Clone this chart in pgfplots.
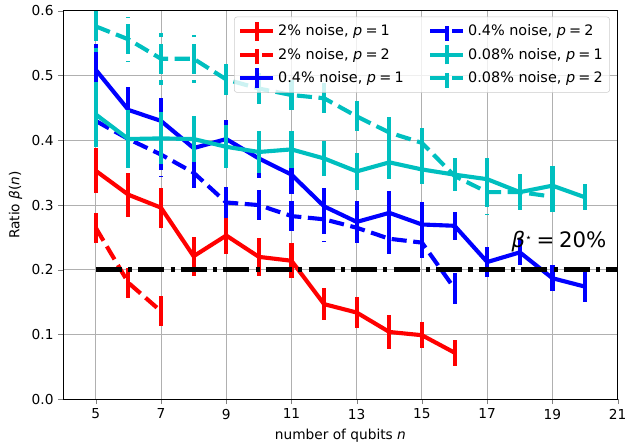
\documentclass[border=0pt]{standalone}
\usepackage{pgfplots}
\usepackage{pgfplotstable}
\pgfplotsset{compat=1.18}
\usepackage{fontspec}
\setmainfont{DejaVu Sans}

\definecolor{mplc}{rgb}{0,0.75,0.75}

% columns: n, ratio, error
\pgfplotstableread{
x y e
5 0.353 0.035
6 0.316 0.034
7 0.296 0.031
8 0.221 0.030
9 0.253 0.028
10 0.220 0.029
11 0.214 0.027
12 0.147 0.025
13 0.134 0.024
14 0.104 0.026
15 0.099 0.020
16 0.072 0.020
}\redone
\pgfplotstableread{
x y e
5 0.265 0.032
6 0.180 0.032
7 0.136 0.030
}\redtwo
\pgfplotstableread{
x y e
5 0.509 0.040
6 0.447 0.035
7 0.430 0.035
8 0.388 0.030
9 0.402 0.030
10 0.372 0.030
11 0.347 0.030
12 0.298 0.028
13 0.274 0.032
14 0.288 0.034
15 0.270 0.034
16 0.268 0.022
17 0.212 0.023
18 0.227 0.020
19 0.187 0.020
20 0.174 0.023
}\blueone
\pgfplotstableread{
x y e
5 0.430 0.040
6 0.402 0.035
7 0.378 0.035
8 0.350 0.030
9 0.304 0.030
10 0.300 0.030
11 0.283 0.028
12 0.278 0.035
13 0.265 0.032
14 0.248 0.030
15 0.242 0.030
16 0.171 0.024
}\bluetwo
\pgfplotstableread{
x y e
5 0.440 0.050
6 0.402 0.045
7 0.403 0.040
8 0.402 0.035
9 0.390 0.033
10 0.382 0.032
11 0.386 0.028
12 0.372 0.027
13 0.352 0.028
14 0.366 0.025
15 0.355 0.023
16 0.347 0.026
17 0.340 0.033
18 0.320 0.028
19 0.330 0.030
20 0.312 0.020
}\cyanone
\pgfplotstableread{
x y e
5 0.576 0.040
6 0.556 0.035
7 0.526 0.040
8 0.526 0.037
9 0.494 0.030
10 0.480 0.030
11 0.470 0.030
12 0.465 0.030
13 0.437 0.030
14 0.412 0.030
15 0.396 0.027
16 0.345 0.030
17 0.320 0.035
18 0.320 0.030
19 0.313 0.030
}\cyantwo

\newcommand{\eq}{\hspace{0.22em}=\hspace{0.22em}}

\begin{document}
\begin{tikzpicture}
\begin{axis}[
    scale only axis,
    width=404pt,
    height=283pt,
    xmin=4, xmax=21,
    ymin=0, ymax=0.6,
    xtick={5,7,...,21},
    ytick={0,0.1,0.2,0.3,0.4,0.5,0.6},
    yticklabel style={/pgf/number format/.cd, fixed, fixed zerofill, precision=1},
    /pgf/number format/assume math mode=true,
    tick align=outside,
    tick pos=left,
    major tick length=3.5pt,
    grid=major,
    grid style={color=black!31, line width=0.7pt},
    axis line style={line width=0.8pt},
    xlabel={number of qubits \textit{n}},
    ylabel={Ratio \textit{β}(\textit{n})},
    every axis plot/.append style={line width=3pt},
    error bars/y dir=both,
    error bars/y explicit,
    error bars/error mark=none,
    error bars/error bar style={line width=3pt},
    legend image code/.code={
        \draw[#1] (0pt,0pt) -- (24pt,0pt);
        \draw[#1] (12pt,-7pt) -- (12pt,7pt);
    },
    transpose legend,
    legend columns=3,
    legend cell align=left,
    legend style={at={(0.986,0.985)}, anchor=north east, draw=black!20,
        rounded corners=2pt, fill=white, fill opacity=0.8, text opacity=1,
        font=\fontsize{10.5pt}{12.6pt}\selectfont,
        /tikz/every even column/.append style={column sep=16pt}},
]
\addplot[red, no marks] table[x=x, y=y, y error=e] {\redone};
\addlegendentry{2\% noise, \textit{p}\eq1}
\addplot[red, no marks, dash pattern=on 11pt off 4.8pt,
    error bars/error bar style={dash pattern=on 11pt off 4.8pt}] table[x=x, y=y, y error=e] {\redtwo};
\addlegendentry{2\% noise, \textit{p}\eq2}
\addplot[blue, no marks] table[x=x, y=y, y error=e] {\blueone};
\addlegendentry{0.4\% noise, \textit{p}\eq1}
\addplot[blue, no marks, dash pattern=on 11pt off 4.8pt,
    error bars/error bar style={dash pattern=on 11pt off 4.8pt}] table[x=x, y=y, y error=e] {\bluetwo};
\addlegendentry{0.4\% noise, \textit{p}\eq2}
\addplot[mplc, no marks] table[x=x, y=y, y error=e] {\cyanone};
\addlegendentry{0.08\% noise, \textit{p}\eq1}
\addplot[mplc, no marks, dash pattern=on 11pt off 4.8pt,
    error bars/error bar style={dash pattern=on 11pt off 4.8pt}] table[x=x, y=y, y error=e] {\cyantwo};
\addlegendentry{0.08\% noise, \textit{p}\eq2}
\addplot[black, no marks, line width=3.5pt, dash pattern=on 19pt off 4.5pt on 3pt off 4.5pt,
    forget plot, error bars/y dir=none] coordinates {(5,0.2) (21,0.2)};
\node[font=\fontsize{15.5pt}{18pt}\selectfont] at (axis cs:19.2,0.243) {\textit{β}\raisebox{0.55ex}{\fontsize{8pt}{9pt}\selectfont ⋆}\eq20\%};
\end{axis}
\path (current axis.south west) ++(-46pt,-32.4pt);
\path (current axis.north east) ++(4.3pt,7.9pt);
\end{tikzpicture}
\end{document}
